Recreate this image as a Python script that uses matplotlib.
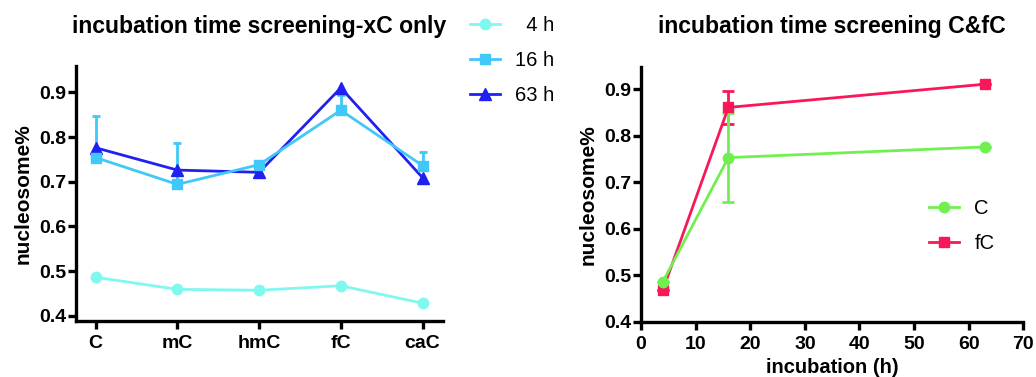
import numpy as np
import matplotlib
matplotlib.use("Agg")
import matplotlib.pyplot as plt

plt.rcParams['font.family'] = ['Liberation Sans', 'DejaVu Sans']

# left panel: xC variants, three incubation times
bases = ['C', 'mC', 'hmC', 'fC', 'caC']
nuc_4h = [0.486, 0.459, 0.457, 0.467, 0.428]
nuc_16h = [0.754, 0.694, 0.738, 0.860, 0.736]
err_16h = [0.094, 0.093, 0.007, 0.035, 0.031]
nuc_63h = [0.776, 0.726, 0.721, 0.910, 0.709]

# right panel: C and fC vs incubation time
hours = [4, 16, 63]
nuc_C = [0.486, 0.753, 0.776]
err_C = [0, 0.095, 0]
nuc_fC = [0.468, 0.861, 0.911]
err_fC = [0, 0.035, 0]

c4, c16, c63 = '#80F8F0', '#40C8F8', '#2020F0'
cC, cfC = '#70F050', '#F8185A'

W, H = 1036, 377
fig = plt.figure(figsize=(W / 100, H / 100), dpi=100)

fs_tick = 14
fs_title = 16.6
fs_lab = 15
fs_leg = 14.5
lw = 2.0
ms = 7.5


def style_axis(ax):
    for s in ['top', 'right']:
        ax.spines[s].set_visible(False)
    for s in ['left', 'bottom']:
        ax.spines[s].set_linewidth(2.4)
    ax.tick_params(width=2.4, length=6, labelsize=fs_tick)
    ax.tick_params(axis='y', pad=1)
    ax.tick_params(axis='x', pad=4)
    for lab in ax.get_xticklabels() + ax.get_yticklabels():
        lab.set_fontweight('bold')


# ---- left panel
ax1 = fig.add_axes([76 / W, 1 - 320.7 / H, (443 - 76) / W, (320.7 - 66) / H])
x = np.arange(len(bases))
l4, = ax1.plot(x, nuc_4h, '-o', color=c4, lw=lw, ms=ms)
e16 = ax1.errorbar(x, nuc_16h, yerr=[np.zeros(len(x)), err_16h], fmt='-s',
                   color=c16, lw=lw, ms=ms, capsize=3, elinewidth=lw,
                   capthick=lw)
l63, = ax1.plot(x, nuc_63h, '-^', color=c63, lw=lw, ms=ms + 0.5)
ax1.set_xlim(-0.24, 4.25)
ax1.set_ylim(0.3888, 0.959)
ax1.set_yticks([0.4, 0.5, 0.6, 0.7, 0.8, 0.9])
ax1.set_yticklabels(['0.4', '0.5', '0.6', '0.7', '0.8', '0.9'])
ax1.set_xticks(x)
ax1.set_xticklabels(bases)
ax1.set_ylabel('nucleosome%', fontsize=fs_lab, fontweight='bold', labelpad=5)
style_axis(ax1)
fig.text(259.5 / W, 1 - 27 / H, 'incubation time screening-xC only',
         fontsize=fs_title, fontweight='bold', ha='center', va='center')
ax1.legend([l4, e16.lines[0], l63], ['  4 h', '16 h', '63 h'],
           loc='upper left', bbox_to_anchor=(470 / W, 1 - 16 / H),
           bbox_transform=fig.transFigure, frameon=False, fontsize=fs_leg,
           handlelength=1.5, handletextpad=0.75, labelspacing=0.8,
           borderpad=0, borderaxespad=0)

# ---- right panel
ax2 = fig.add_axes([641 / W, 1 - 321.7 / H, (1023.3 - 641) / W, (321.7 - 66.7) / H])
efC = ax2.errorbar(hours, nuc_fC, yerr=err_fC, fmt='-s', color=cfC, lw=lw,
                   ms=ms, capsize=4.3, elinewidth=lw, capthick=lw)
eC = ax2.errorbar(hours, nuc_C, yerr=err_C, fmt='-o', color=cC, lw=lw,
                  ms=ms, capsize=4.3, elinewidth=lw, capthick=lw)
ax2.set_xlim(0, 70)
ax2.set_ylim(0.4, 0.9486)
ax2.set_xticks(range(0, 71, 10))
ax2.set_yticks([0.4, 0.5, 0.6, 0.7, 0.8, 0.9])
ax2.set_yticklabels(['0.4', '0.5', '0.6', '0.7', '0.8', '0.9'])
ax2.set_xlabel('incubation (h)', fontsize=fs_leg, fontweight='bold', labelpad=4)
ax2.set_ylabel('nucleosome%', fontsize=fs_lab, fontweight='bold', labelpad=5)
style_axis(ax2)
fig.text(832 / W, 1 - 27 / H, 'incubation time screening C&fC',
         fontsize=fs_title, fontweight='bold', ha='center', va='center')
ax2.legend([eC.lines[0], efC.lines[0]], ['C', 'fC'], loc='upper left',
           bbox_to_anchor=(929 / W, 1 - 199 / H),
           bbox_transform=fig.transFigure, frameon=False, fontsize=fs_leg,
           handlelength=1.5, handletextpad=0.75, labelspacing=0.8,
           borderpad=0, borderaxespad=0)

fig.savefig('out.png', dpi=100)
